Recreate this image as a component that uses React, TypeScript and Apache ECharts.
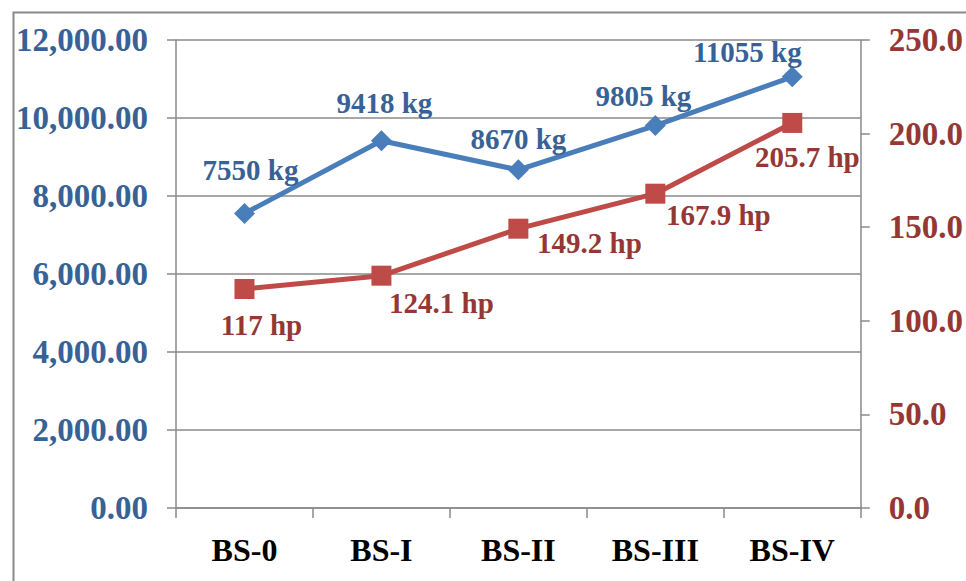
import React, { useEffect, useRef } from "react";
import * as echarts from "echarts";

const categories = ["BS-0", "BS-I", "BS-II", "BS-III", "BS-IV"];
const weightKg = [7550, 9418, 8670, 9805, 11055];
const powerHp = [117, 124.1, 149.2, 167.9, 205.7];
const powerLabels = ["117", "124.1", "149.2", "167.9", "205.7"];

// label offsets relative to each marker (px)
const weightLabelOffsets = [[6, -44], [3, -38], [0, -31], [-12, -30], [-45, -25]];
const powerLabelOffsets = [[17, 36], [60, 27], [71, 14], [63, 21], [15, 34]];

const FONT = "'Liberation Serif', 'Times New Roman', serif";
const GRID = "#8a8a8a";
const BLUE_LINE = "#4A7EBB";
const BLUE_TEXT = "#386296";
const RED_LINE = "#BE4B48";
const RED_TEXT = "#953735";

export default function App() {
  const ref = useRef<HTMLDivElement>(null);
  useEffect(() => {
    if (!ref.current) return;
    const chart = echarts.init(ref.current, undefined, { renderer: "svg" });
    const option: any = {
      animation: false,
      backgroundColor: "#ffffff",
      graphic: [
        {
          type: "rect",
          left: 11,
          top: 10,
          shape: { width: 2000, height: 2000 },
          style: { fill: "none", stroke: GRID, lineWidth: 2 },
          z: -10,
        },
      ],
      grid: { left: 176, right: 102, top: 40, bottom: 73, containLabel: false },
      xAxis: {
        type: "category",
        data: categories,
        boundaryGap: true,
        axisLine: { show: true, lineStyle: { color: GRID, width: 1.5 } },
        axisTick: { show: true, inside: false, length: 10, alignWithLabel: false, lineStyle: { color: GRID, width: 1.5 } },
        axisLabel: {
          margin: 26,
          color: "#000000",
          fontFamily: FONT,
          fontWeight: "bold",
          fontSize: 32,
        },
      },
      yAxis: [
        {
          type: "value",
          min: 0,
          max: 12000,
          interval: 2000,
          position: "left",
          axisLine: { show: true, lineStyle: { color: GRID, width: 1.5 } },
          axisTick: { show: true, inside: false, length: 9, lineStyle: { color: GRID, width: 1.5 } },
          splitLine: { show: true, lineStyle: { color: GRID, width: 1.5 } },
          axisLabel: {
            margin: 28,
            color: BLUE_TEXT,
            fontFamily: FONT,
            fontWeight: "bold",
            fontSize: 33,
            formatter: (v: number) =>
              v.toLocaleString("en-US", { minimumFractionDigits: 2, maximumFractionDigits: 2 }),
          },
        },
        {
          type: "value",
          min: 0,
          max: 250,
          interval: 50,
          position: "right",
          axisLine: { show: true, lineStyle: { color: GRID, width: 1.5 } },
          axisTick: { show: true, inside: false, length: 9, lineStyle: { color: GRID, width: 1.5 } },
          splitLine: { show: false },
          axisLabel: {
            margin: 28,
            color: RED_TEXT,
            fontFamily: FONT,
            fontWeight: "bold",
            fontSize: 33,
            formatter: (v: number) => v.toFixed(1),
          },
        },
      ],
      series: [
        {
          name: "Weight",
          type: "line",
          yAxisIndex: 0,
          data: weightKg.map((v, i) => ({
            value: v,
            label: { offset: weightLabelOffsets[i] },
          })),
          symbol: "diamond",
          symbolSize: 21,
          lineStyle: { color: BLUE_LINE, width: 5 },
          itemStyle: { color: BLUE_LINE },
          z: 3,
          label: {
            show: true,
            position: "inside",
            formatter: (p: any) => `${p.value} kg`,
            color: BLUE_TEXT,
            fontFamily: FONT,
            fontWeight: "bold",
            fontSize: 29,
          },
        },
        {
          name: "Power",
          type: "line",
          yAxisIndex: 1,
          data: powerHp.map((v, i) => ({
            value: v,
            label: { offset: powerLabelOffsets[i] },
          })),
          symbol: "rect",
          symbolSize: 20,
          lineStyle: { color: RED_LINE, width: 5 },
          itemStyle: { color: RED_LINE },
          z: 3,
          label: {
            show: true,
            position: "inside",
            formatter: (p: any) => `${powerLabels[p.dataIndex]} hp`,
            color: RED_TEXT,
            fontFamily: FONT,
            fontWeight: "bold",
            fontSize: 29,
          },
        },
      ],
    };
    chart.setOption(option);
    return () => chart.dispose();
  }, []);
  return (
    <div
      ref={ref}
      style={{ position: "fixed", left: 0, top: 0, width: 966, height: 581 }}
    />
  );
}
